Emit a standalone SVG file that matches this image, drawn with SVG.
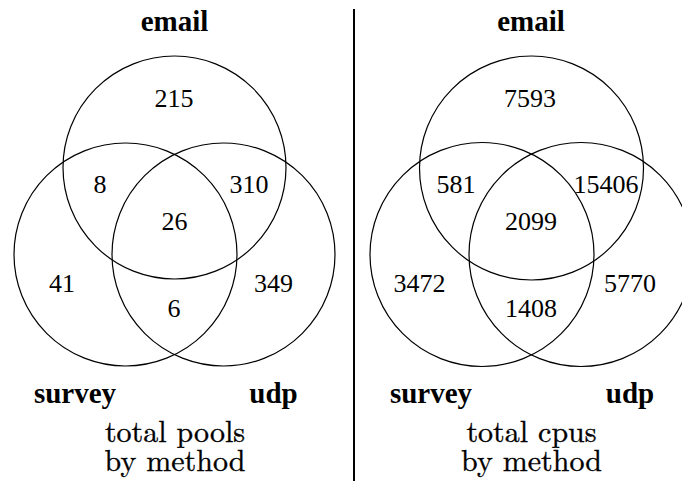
<svg xmlns="http://www.w3.org/2000/svg" width="682" height="481" viewBox="0 0 682 481">
<style>
.c{fill:none;stroke:#000;stroke-width:1.2}
.n{font-size:26px;text-anchor:middle;fill:#000}
.h{font-size:29px;font-weight:bold;text-anchor:middle;fill:#000}
.t{font-size:30px;text-anchor:middle;fill:#000;stroke:#000;stroke-width:0.35}
</style>
<rect width="682" height="481" fill="#fff"/>
<g id="left" font-family="Liberation Serif, Times New Roman, serif">
<g id="l-email-set"><circle class="c" cx="174.5" cy="167.5" r="111.5"/><text class="h" x="174.5" y="31">email</text></g>
<g id="l-survey-set"><circle class="c" cx="125.5" cy="254.5" r="111.5"/><text class="h" x="75" y="403">survey</text></g>
<g id="l-udp-set"><circle class="c" cx="223.5" cy="254.5" r="111.5"/><text class="h" x="273.5" y="403">udp</text></g>
<g id="l-counts">
<text class="n" x="174" y="107">215</text>
<text class="n" x="100" y="193">8</text>
<text class="n" x="249" y="193">310</text>
<text class="n" x="174.5" y="230">26</text>
<text class="n" x="62" y="292">41</text>
<text class="n" x="273.5" y="292">349</text>
<text class="n" x="174" y="317">6</text>
</g>
<g id="l-caption" font-family="Latin Modern Roman, Liberation Serif, serif">
<text class="t" x="175" y="442">total pools</text>
<text class="t" x="175" y="471">by method</text>
</g>
</g>
<g id="connectors"><line x1="354" y1="9" x2="354" y2="481" stroke="#000" stroke-width="2"/></g>
<g id="right" font-family="Liberation Serif, Times New Roman, serif">
<g id="r-email-set"><circle class="c" cx="531.5" cy="168" r="112"/><text class="h" x="531" y="31">email</text></g>
<g id="r-survey-set"><circle class="c" cx="482" cy="254.5" r="112"/><text class="h" x="431" y="403">survey</text></g>
<g id="r-udp-set"><circle class="c" cx="581" cy="254.5" r="112"/><text class="h" x="630" y="403">udp</text></g>
<g id="r-counts">
<text class="n" x="530" y="107">7593</text>
<text class="n" x="456" y="193">581</text>
<text class="n" x="606" y="193">15406</text>
<text class="n" x="531" y="230">2099</text>
<text class="n" x="419.5" y="292">3472</text>
<text class="n" x="630" y="292">5770</text>
<text class="n" x="531" y="317">1408</text>
</g>
<g id="r-caption" font-family="Latin Modern Roman, Liberation Serif, serif">
<text class="t" x="531.5" y="442">total cpus</text>
<text class="t" x="531.5" y="471">by method</text>
</g>
</g>
</svg>
